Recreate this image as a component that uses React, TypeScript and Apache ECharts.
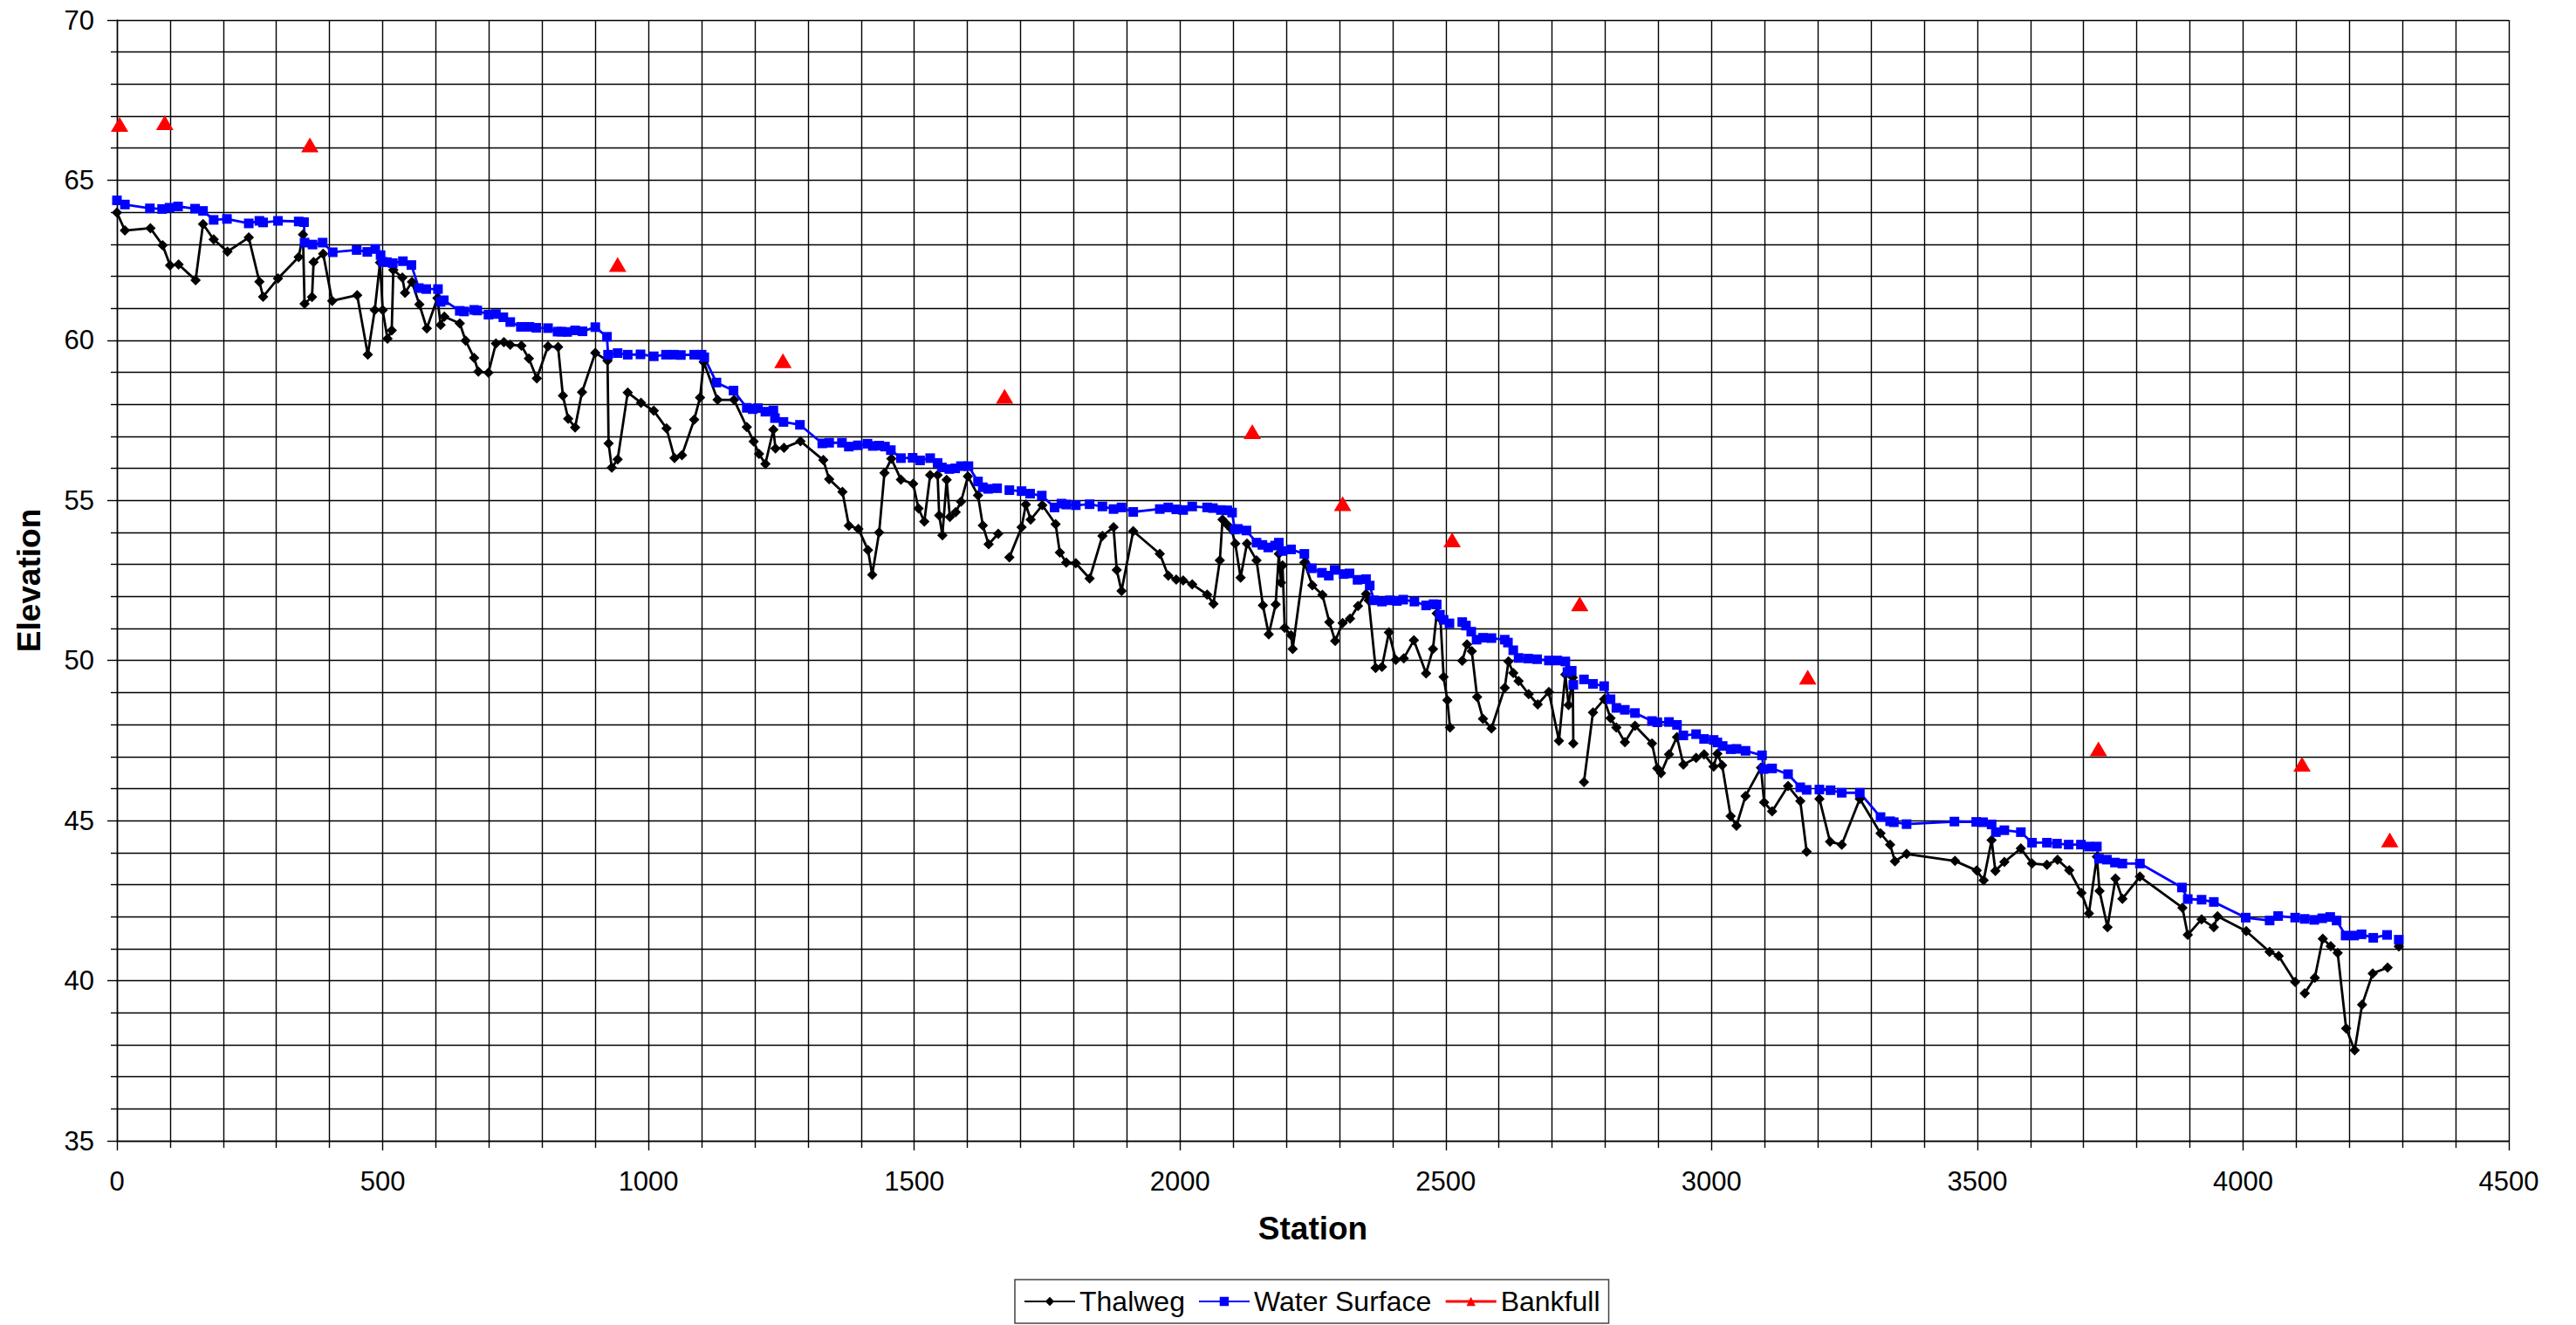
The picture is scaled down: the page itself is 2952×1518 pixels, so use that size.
import React, { useEffect, useRef } from "react";
import * as echarts from "echarts";

// [station, elevation]; null elevation = break in the line
const thalweg: [number, number | null][] = [
  [0,63.99],[15,63.43],[63,63.50],[86,62.97],[100,62.34],[116,62.37],[148,61.88],[162,63.63],[182,63.15],[208,62.77],
  [248,63.21],[268,61.83],[275,61.36],[303,61.93],[342,62.60],[350,63.30],[353,61.14],[367,61.35],[370,62.44],[388,62.70],
  [405,61.23],[452,61.41],[472,59.55],[485,60.94],[495,62.43],[500,60.94],[509,60.05],[517,60.31],[520,62.20],[537,61.96],
  [542,61.48],[555,61.82],[569,61.12],[583,60.37],[603,61.32],[609,60.48],[616,60.74],[645,60.53],[656,59.99],[672,59.45],
  [680,59.02],[699,58.99],[713,59.90],[728,59.94],[740,59.86],[761,59.83],[775,59.43],[790,58.81],[811,59.81],[830,59.79],
  [839,58.27],[849,57.55],[862,57.28],[875,58.38],[900,59.61],[923,59.36],[925,56.78],[931,56.02],[942,56.28],[961,58.37],
  [986,58.05],[1010,57.80],[1034,57.25],[1049,56.32],[1063,56.41],[1086,57.52],[1097,58.21],[1104,59.32],[1130,58.14],[1161,58.14],
  [1185,57.29],[1198,56.84],[1208,56.45],[1220,56.14],[1235,57.21],[1239,56.62],[1255,56.64],[1286,56.85],[1329,56.26],[1340,55.66],
  [1365,55.27],[1377,54.21],[1395,54.11],[1413,53.45],[1421,52.68],[1434,54.00],[1444,55.86],[1457,56.30],[1475,55.65],[1498,55.52],
  [1508,54.75],[1519,54.34],[1530,55.79],[1544,55.79],[1547,54.53],[1553,53.91],[1561,55.64],[1567,54.48],[1578,54.63],[1588,54.96],
  [1601,55.75],[1620,55.16],[1629,54.22],[1640,53.63],[1658,53.96],[1668,null],[1679,53.22],[1702,54.16],[1710,54.87],[1719,54.40],
  [1741,54.85],[1766,54.26],[1774,53.37],[1786,53.06],[1804,53.04],[1830,52.56],[1854,53.89],[1875,54.16],[1881,52.83],[1890,52.17],
  [1912,54.04],[1962,53.33],[1978,52.65],[1993,52.53],[2006,52.50],[2023,52.38],[2051,52.06],[2063,51.77],[2075,53.13],[2080,54.40],
  [2089,54.24],[2097,54.10],[2104,53.65],[2114,52.59],[2126,53.65],[2144,53.13],[2156,51.72],[2167,50.82],[2180,51.75],[2186,53.33],
  [2190,52.43],[2193,52.97],[2197,51.02],[2209,50.79],[2212,50.36],[2234,53.06],[2249,52.35],[2268,52.05],[2281,51.20],[2292,50.61],
  [2306,51.17],[2320,51.31],[2335,51.70],[2350,52.08],[2355,51.88],[2368,49.77],[2380,49.80],[2393,50.88],[2406,50.02],[2421,50.07],
  [2440,50.63],[2463,49.60],[2476,50.36],[2483,51.47],[2490,51.30],[2496,49.49],[2503,48.76],[2508,47.91],[2520,null],[2531,49.99],
  [2540,50.50],[2549,50.29],[2559,48.86],[2570,48.18],[2586,47.88],[2611,49.15],[2618,49.97],[2627,49.61],[2637,49.36],[2656,48.95],
  [2673,48.63],[2694,49.02],[2713,47.49],[2725,49.56],[2731,48.61],[2739,49.47],[2740,47.41],[2750,null],[2760,46.20],[2777,48.38],
  [2798,48.79],[2810,48.20],[2821,47.91],[2837,47.45],[2856,47.96],[2888,47.41],[2898,46.63],[2905,46.48],[2920,47.07],[2935,47.61],
  [2947,46.75],[2971,46.96],[2986,47.07],[3004,46.69],[3011,47.09],[3020,46.73],[3036,45.14],[3047,44.84],[3064,45.77],[3093,46.65],
  [3099,45.57],[3114,45.29],[3144,46.08],[3167,45.61],[3179,44.03],[3190,null],[3203,45.68],[3223,44.34],[3245,44.25],[3279,45.68],
  [3318,44.60],[3336,44.25],[3345,43.73],[3367,43.96],[3458,43.74],[3499,43.44],[3512,43.14],[3527,44.39],[3534,43.43],[3551,43.71],
  [3582,44.13],[3603,43.66],[3631,43.62],[3651,43.78],[3673,43.45],[3696,42.74],[3710,42.10],[3725,43.87],[3730,42.80],[3745,41.67],
  [3760,43.19],[3773,42.56],[3806,43.25],[3886,42.28],[3896,41.43],[3922,41.92],[3945,41.67],[3952,42.01],[4006,41.55],[4050,40.90],
  [4067,40.77],[4098,39.96],[4107,null],[4116,39.61],[4135,40.09],[4150,41.31],[4165,41.08],[4178,40.87],[4194,38.51],[4210,37.83],
  [4224,39.25],[4244,40.23],[4272,40.41],[4282,null],[4293,41.07],
];

const waterSurface: [number, number | null][] = [
  [0,64.37],[15,64.24],[62,64.12],[85,64.10],[99,64.14],[115,64.18],[147,64.11],[162,64.04],[182,63.76],[207,63.79],
  [248,63.65],[268,63.73],[275,63.68],[303,63.73],[342,63.71],[352,63.69],[353,63.05],[368,62.99],[387,63.05],[406,62.75],
  [451,62.82],[471,62.76],[486,62.85],[496,62.66],[500,62.45],[508,62.44],[519,62.41],[538,62.47],[554,62.35],[568,61.63],
  [582,61.60],[604,61.60],[609,61.20],[615,61.25],[645,60.92],[653,60.90],[672,60.95],[678,60.93],[699,60.80],[713,60.82],
  [727,60.72],[740,60.57],[760,60.42],[776,60.42],[789,60.39],[811,60.38],[829,60.27],[836,60.27],[847,60.26],[862,60.31],
  [876,60.28],[900,60.41],[922,60.11],[924,59.55],[942,59.60],[961,59.55],[985,59.56],[1010,59.50],[1033,59.55],[1048,59.55],
  [1061,59.54],[1086,59.55],[1100,59.55],[1105,59.47],[1128,58.68],[1160,58.43],[1185,57.89],[1196,57.85],[1206,57.88],[1220,57.77],
  [1235,57.81],[1238,57.57],[1254,57.45],[1285,57.36],[1327,56.78],[1340,56.80],[1364,56.80],[1377,56.68],[1394,56.72],[1412,56.77],
  [1422,56.70],[1434,56.71],[1445,56.68],[1456,56.57],[1475,56.32],[1497,56.33],[1511,56.25],[1530,56.32],[1544,56.17],[1552,56.03],
  [1566,55.98],[1577,56.00],[1588,56.07],[1602,56.07],[1620,55.59],[1629,55.41],[1639,55.36],[1656,55.38],[1668,null],[1679,55.32],
  [1702,55.29],[1718,55.21],[1740,55.15],[1764,54.78],[1777,54.90],[1786,54.87],[1804,54.85],[1830,54.88],[1854,54.81],[1875,54.73],
  [1890,54.78],[1912,54.64],[1962,54.73],[1978,54.78],[1993,54.72],[2006,54.70],[2023,54.81],[2051,54.78],[2062,54.76],[2077,54.70],
  [2089,54.69],[2098,54.62],[2103,54.09],[2109,54.11],[2125,54.06],[2144,53.68],[2155,53.61],[2166,53.53],[2179,53.59],[2186,53.68],
  [2193,53.42],[2209,53.47],[2234,53.33],[2248,52.88],[2267,52.74],[2280,52.65],[2291,52.83],[2308,52.70],[2319,52.72],[2334,52.52],
  [2350,52.54],[2357,52.34],[2365,51.88],[2380,51.84],[2395,51.88],[2408,51.86],[2420,51.90],[2441,51.84],[2463,51.72],[2477,51.76],
  [2483,51.75],[2489,51.43],[2496,51.27],[2507,51.16],[2520,null],[2531,51.20],[2538,51.09],[2548,50.90],[2558,50.65],[2570,50.71],
  [2586,50.70],[2611,50.65],[2617,50.56],[2627,50.32],[2637,50.08],[2655,50.06],[2672,50.04],[2694,50.00],[2710,50.00],[2725,49.97],
  [2729,49.64],[2737,49.68],[2740,49.24],[2750,null],[2760,49.41],[2777,49.27],[2798,49.20],[2810,48.79],[2821,48.52],[2837,48.46],
  [2856,48.36],[2888,48.11],[2898,48.07],[2920,48.08],[2935,47.99],[2947,47.66],[2971,47.70],[2986,47.55],[3004,47.52],[3011,47.44],
  [3021,47.33],[3036,47.23],[3047,47.24],[3064,47.18],[3095,47.04],[3098,46.61],[3114,46.63],[3144,46.45],[3167,46.04],[3179,45.96],
  [3190,null],[3203,45.97],[3224,45.95],[3245,45.87],[3279,45.87],[3318,45.11],[3336,44.98],[3343,44.95],[3367,44.89],[3457,44.97],
  [3498,44.96],[3511,44.95],[3527,44.88],[3535,44.64],[3551,44.70],[3582,44.64],[3603,44.31],[3631,44.31],[3650,44.28],[3672,44.25],
  [3695,44.25],[3710,44.19],[3725,44.19],[3729,43.81],[3744,43.78],[3759,43.69],[3773,43.66],[3806,43.66],[3885,42.91],[3896,42.55],
  [3922,42.53],[3945,42.46],[4005,41.97],[4050,41.88],[4066,42.02],[4098,41.97],[4116,41.93],[4134,41.90],[4149,41.95],[4164,41.99],
  [4176,41.88],[4193,41.41],[4209,41.41],[4223,41.45],[4245,41.34],[4271,41.43],[4282,null],[4293,41.28],
];

const bankfull: [number, number][] = [
  [5,66.74],[90,66.80],[363,66.10],[942,62.37],[1253,59.36],[1670,58.25],[2136,57.15],[2306,54.90],
  [2512,53.77],[2752,51.77],[3181,49.48],[3728,47.24],[4111,46.76],[4276,44.40],
];

const seriesNames = ["Thalweg", "Water Surface", "Bankfull"];
const stationRange = { min: 0, max: 4500, step: 500 };
const elevationRange = { min: 35, max: 70, step: 5 };

const FONT = "'Liberation Sans', Arial, sans-serif";

const toData = (pts: [number, number | null][]) =>
  pts.map(([x, y]) => [x, y === null ? "-" : y]);

export default function App() {
  const ref = useRef<HTMLDivElement>(null);
  useEffect(() => {
    if (!ref.current) return;
    const chart = echarts.init(ref.current, undefined, { renderer: "svg" });
    const gridLine = { show: true, lineStyle: { color: "#000", width: 1.4 } };
    chart.setOption({
      animation: false,
      backgroundColor: "#fff",
      textStyle: { fontFamily: FONT },
      grid: { left: 134, top: 23, right: 77, bottom: 211, containLabel: false },
      xAxis: {
        type: "value",
        min: stationRange.min,
        max: stationRange.max,
        interval: stationRange.step,
        name: "Station",
        nameLocation: "middle",
        nameGap: 82,
        nameTextStyle: { fontSize: 37, fontWeight: "bold", color: "#000", fontFamily: FONT },
        axisLine: { show: true, onZero: false, lineStyle: { color: "#000", width: 1.4 } },
        axisTick: { show: true, length: 11, lineStyle: { color: "#000", width: 1.4 } },
        minorTick: { show: true, splitNumber: 5, length: 8, lineStyle: { color: "#000", width: 1.4 } },
        splitLine: gridLine,
        minorSplitLine: gridLine,
        axisLabel: {
          fontSize: 31,
          color: "#000",
          margin: 31,
          fontFamily: FONT,
          formatter: (v: number) => String(v),
        },
      },
      yAxis: {
        type: "value",
        min: elevationRange.min,
        max: elevationRange.max,
        interval: elevationRange.step,
        name: "Elevation",
        nameLocation: "middle",
        nameGap: 82,
        nameTextStyle: { fontSize: 37, fontWeight: "bold", color: "#000", fontFamily: FONT },
        axisLine: { show: true, onZero: false, lineStyle: { color: "#000", width: 1.4 } },
        axisTick: { show: true, length: 11, lineStyle: { color: "#000", width: 1.4 } },
        minorTick: { show: true, splitNumber: 5, length: 7, lineStyle: { color: "#000", width: 1.4 } },
        splitLine: gridLine,
        minorSplitLine: gridLine,
        axisLabel: {
          fontSize: 31,
          color: "#000",
          margin: 26,
          fontFamily: FONT,
          formatter: (v: number) => String(v),
        },
      },
      legend: {
        left: 1163,
        top: 1466,
        orient: "horizontal",
        padding: [9, 10, 9, 10],
        itemGap: 15,
        itemWidth: 58,
        itemHeight: 13,
        borderColor: "#444",
        borderWidth: 1.5,
        textStyle: { fontSize: 32, color: "#000", fontFamily: FONT },
        data: [
          { name: seriesNames[0] },
          { name: seriesNames[1] },
          { name: seriesNames[2], lineStyle: { color: "#FF0000", width: 2.8, opacity: 1 } },
        ],
      },
      series: [
        {
          name: seriesNames[0],
          type: "line",
          data: toData(thalweg),
          symbol: "diamond",
          symbolSize: 12,
          showAllSymbol: true,
          connectNulls: false,
          itemStyle: { color: "#000" },
          lineStyle: { color: "#000", width: 2.8 },
        },
        {
          name: seriesNames[1],
          type: "line",
          data: toData(waterSurface),
          symbol: "rect",
          symbolSize: 11,
          showAllSymbol: true,
          connectNulls: false,
          itemStyle: { color: "#0000FF" },
          lineStyle: { color: "#0000FF", width: 2.8 },
        },
        {
          name: seriesNames[2],
          type: "line",
          data: bankfull,
          symbol: "triangle",
          symbolSize: [20, 17],
          showAllSymbol: true,
          itemStyle: { color: "#FF0000" },
          lineStyle: { color: "#FF0000", width: 0, opacity: 0 },
        },
      ],
    });
    return () => chart.dispose();
  }, []);
  return (
    <div
      ref={ref}
      style={{ position: "fixed", left: 0, top: 0, width: 2952, height: 1518, background: "#fff" }}
    />
  );
}
